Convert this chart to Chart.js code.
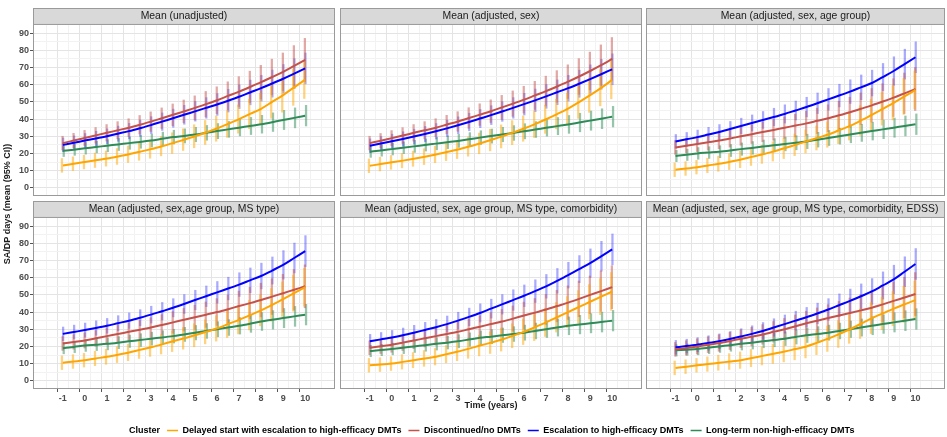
<!DOCTYPE html>
<html>
<head>
<meta charset="utf-8">
<script src="https://cdn.jsdelivr.net/npm/chart.js@4.4.1/dist/chart.umd.min.js"></script>
<style>
  html, body { margin: 0; padding: 0; background: #fff; width: 947px; height: 437px; overflow: hidden; position: relative; }
  canvas { position: absolute; }
</style>
</head>
<body>
<canvas id="frame" width="968" height="445" style="left:0;top:0"></canvas>
<script>
// Time points (years), one every half year
const years = [-1, -0.5, 0, 0.5, 1, 1.5, 2, 2.5, 3, 3.5, 4, 4.5, 5, 5.5, 6, 6.5, 7, 7.5, 8, 8.5, 9, 9.5, 10];
const xTickLabels = [-1, 0, 1, 2, 3, 4, 5, 6, 7, 8, 9, 10];
const yTickLabels = [0, 10, 20, 30, 40, 50, 60, 70, 80, 90];

const clusters = [
  "Delayed start with escalation to high-efficacy DMTs",
  "Discontinued/no DMTs",
  "Escalation to high-efficacy DMTs",
  "Long-term non-high-efficacy DMTs"
];
const clusterColors = ["#ffa500", "#c4524b", "#0000ff", "#2e8b57"];
const barColors = ["rgba(255,165,0,0.5)", "rgba(196,82,75,0.5)", "rgba(40,40,255,0.4)", "rgba(46,139,87,0.5)"];

const panelTitles = [
  "Mean (unadjusted)",
  "Mean (adjusted, sex)",
  "Mean (adjusted, sex, age group)",
  "Mean (adjusted, sex,age group, MS type)",
  "Mean (adjusted, sex, age group, MS type, comorbidity)",
  "Mean (adjusted, sex, age group, MS type, comorbidity, EDSS)"
];

// Mean SA/DP days per cluster
const unadjDelayed = [13, 14, 15, 16, 17, 18.2, 19.5, 21, 22.5, 24.2, 26, 28, 30, 32.2, 34.5, 37.2, 40, 43, 46, 50, 54, 58.5, 63];
const unadjDiscont = [26, 27.5, 29, 30.5, 32, 33.5, 35, 36.7, 38.5, 40.5, 42.5, 44.5, 46.5, 48.7, 51, 53.5, 56, 58.7, 61.5, 64.5, 67.5, 71, 74.5];
const unadjEscal = [25, 26.2, 27.5, 28.7, 30, 31.5, 33, 34.7, 36.5, 38.5, 40.5, 42.5, 44.5, 46.5, 48.5, 50.7, 53, 55.5, 58, 60.7, 63.5, 66.5, 69.5];
const unadjLong = [21.5, 22.2, 23, 23.7, 24.5, 25.2, 26, 26.7, 27.5, 28.5, 29.5, 30.2, 31, 32, 33, 34, 35, 36, 37, 38.2, 39.5, 40.7, 42];

const sexDelayed = [12.8, 13.8, 14.8, 15.8, 16.9, 18.1, 19.4, 20.8, 22.3, 24, 25.8, 27.8, 29.9, 32.1, 34.5, 37.1, 39.9, 42.9, 46.1, 49.9, 53.9, 58.2, 62.8];
const sexDiscont = [26, 27.4, 28.9, 30.4, 32, 33.5, 35, 36.8, 38.6, 40.6, 42.6, 44.6, 46.8, 49, 51.3, 53.8, 56.3, 59, 61.8, 64.8, 68, 71.4, 75];
const sexEscal = [24.5, 25.8, 27.1, 28.4, 29.8, 31.3, 32.9, 34.6, 36.4, 38.3, 40.3, 42.3, 44.4, 46.5, 48.7, 50.9, 53.2, 55.6, 58, 60.6, 63.3, 66.1, 69];
const sexLong = [21, 21.7, 22.5, 23.3, 24.1, 24.9, 25.7, 26.5, 27.3, 28.2, 29.2, 30.1, 31, 31.9, 32.9, 33.9, 34.9, 35.9, 36.9, 38, 39.1, 40.2, 41.4];

const ageDelayed = [10.5, 11.2, 12, 13, 14, 15.2, 16.5, 18, 19.5, 21.2, 23, 25, 27, 29, 31, 33.5, 36, 39.2, 42.5, 46, 49.5, 53.2, 57];
const ageDiscont = [23.5, 24.5, 25.5, 26.5, 27.5, 28.7, 30, 31.2, 32.5, 33.7, 35, 36.2, 37.5, 39, 40.5, 42.2, 44, 46, 48, 50.2, 52.5, 55, 57.5];
const ageEscal = [27, 28.2, 29.5, 31, 32.5, 34.2, 36, 37.7, 39.5, 41.2, 43, 45, 47, 49.2, 51.5, 53.7, 56, 58.5, 61, 64.5, 68, 72, 76];
const ageLong = [18.5, 19.2, 20, 20.5, 21, 21.7, 22.5, 23.2, 24, 24.7, 25.5, 26.2, 27, 28, 29, 30, 31, 32, 33, 34, 35, 36, 37];

const msDelayed = [10.5, 11.2, 12, 13, 14, 15.2, 16.5, 18, 19.5, 21.2, 23, 24.7, 26.5, 28.5, 30.5, 33, 35.5, 38.2, 41, 44.2, 47.5, 51, 54.5];
const msDiscont = [21.7, 22.6, 23.5, 24.7, 26, 27.2, 28.5, 29.7, 31, 32.5, 34, 35.5, 37, 38.5, 40, 41.7, 43.5, 45.2, 47, 49, 51, 53, 55];
const msEscal = [27.3, 28.4, 29.5, 30.7, 32, 33.5, 35, 36.7, 38.5, 40.5, 42.5, 44.7, 47, 49.2, 51.5, 53.7, 56, 58.5, 61, 64.2, 67.5, 71.5, 75.5];
const msLong = [19, 19.7, 20.5, 21, 21.5, 22.2, 23, 23.7, 24.5, 25.2, 26, 27, 28, 29, 30, 31, 32, 33.2, 34.5, 35.5, 36.5, 37.5, 38.5];

const comorbDelayed = [9, 9.4, 10, 11, 12, 13, 14, 15.5, 17, 18.7, 20.5, 22.2, 24, 26.2, 28.5, 31.2, 34, 37, 40, 43, 46, 49, 52];
const comorbDiscont = [19.2, 20.1, 21, 22.2, 23.5, 24.7, 26, 27.2, 28.5, 30, 31.5, 33, 34.5, 36.2, 38, 39.7, 41.5, 43.5, 45.5, 47.7, 50, 52.2, 54.5];
const comorbEscal = [23, 24.1, 25.2, 26.5, 28, 29.6, 31.2, 33, 35, 37.2, 39.5, 42, 44.5, 47, 49.5, 52.2, 55, 58.2, 61.5, 65, 68.5, 72.5, 76.5];
const comorbLong = [17.3, 17.9, 18.5, 19.2, 20, 20.7, 21.5, 22.2, 23, 24, 25, 25.7, 26.5, 27.2, 28, 29, 30, 31, 32, 32.7, 33.5, 34.2, 35];

const edssDelayed = [7.5, 8.2, 9, 9.7, 10.5, 11.2, 12, 13.2, 14.5, 15.7, 17, 18.5, 20, 22.2, 24.5, 27.2, 30, 33.2, 36.5, 39.2, 42, 44.5, 47];
const edssDiscont = [18.3, 19.1, 20, 21, 22, 23.2, 24.5, 25.7, 27, 28.5, 30, 31.7, 33.5, 35, 36.5, 38, 39.5, 41, 42.5, 44.5, 46.5, 48.5, 50.5];
const edssEscal = [19.5, 20.2, 21, 22, 23, 24.3, 25.8, 27.3, 29, 31, 33, 35, 37, 39.2, 41.5, 44, 46.5, 49.2, 52, 55.5, 59, 63.5, 68];
const edssLong = [17.7, 18.1, 18.5, 19.2, 20, 20.7, 21.5, 22.2, 23, 23.7, 24.5, 25.5, 26.5, 27.2, 28, 29, 30, 31, 32, 33, 34, 35, 36];

// Half-width of the 95% CI per cluster
const ciDelayed = [4, 4, 4, 4.2, 4.4, 4.6, 4.8, 5, 5.3, 5.6, 6, 6.3, 6.7, 7, 7.4, 7.8, 8.2, 8.6, 9, 9.5, 10, 10.5, 11];
const ciDiscont = [4, 4.2, 4.4, 4.6, 4.8, 5, 5.2, 5.4, 5.7, 6, 6.3, 6.6, 7, 7.4, 7.8, 8.2, 8.7, 9.2, 9.8, 10.4, 11, 11.8, 12.5];
const ciEscal = [4, 4, 4.1, 4.2, 4.3, 4.4, 4.5, 4.7, 4.9, 5.1, 5.3, 5.5, 5.7, 6, 6.3, 6.6, 6.9, 7.2, 7.5, 7.9, 8.3, 8.7, 9];
const ciLong = [3.3, 3.3, 3.4, 3.4, 3.5, 3.5, 3.6, 3.7, 3.8, 3.9, 4, 4.1, 4.2, 4.3, 4.4, 4.6, 4.8, 5, 5.2, 5.4, 5.6, 5.8, 6];

const panelMeans = [
  [unadjDelayed, unadjDiscont, unadjEscal, unadjLong],
  [sexDelayed, sexDiscont, sexEscal, sexLong],
  [ageDelayed, ageDiscont, ageEscal, ageLong],
  [msDelayed, msDiscont, msEscal, msLong],
  [comorbDelayed, comorbDiscont, comorbEscal, comorbLong],
  [edssDelayed, edssDiscont, edssEscal, edssLong]
];
const ciWidths = [ciDelayed, ciDiscont, ciEscal, ciLong];
const dodge = [-0.04, -0.013, 0.013, 0.04];

// Facet layout
const colLeft = [33, 340, 646];
const colWidth = [302, 302, 299];
const rowTop = [8, 201];
const stripH = 16;
const plotH = 172;
const xMin = -2.08, xMax = 11.08;
const yMin = -4.8, yMax = 95.4;

Chart.defaults.font.family = "'Liberation Sans', Arial, sans-serif";
Chart.defaults.color = "#4d4d4d";

// major ticks plus the minor ones half way between them
function tickList(labels, min, max) {
  const step = labels[1] - labels[0];
  const out = labels.map(v => ({ value: v }));
  labels.forEach(v => out.push({ value: v - step / 2 }));
  out.push({ value: labels[labels.length - 1] + step / 2 });
  return out.filter(t => t.value >= min && t.value <= max).sort((a, b) => a.value - b.value);
}

// grey strip behind the facet title and border round the panel
const panelFrame = {
  id: "panelFrame",
  beforeDraw(chart) {
    const { ctx } = chart;
    const t = chart.titleBlock;
    ctx.save();
    ctx.fillStyle = "#d9d9d9";
    ctx.fillRect(t.left, t.top, t.width, t.height);
    ctx.strokeStyle = "#9a9a9a";
    ctx.lineWidth = 1;
    ctx.strokeRect(t.left + 0.5, t.top + 0.5, t.width - 1, t.height);
    ctx.restore();
  },
  afterDraw(chart) {
    const { ctx, chartArea: a } = chart;
    ctx.save();
    ctx.strokeStyle = "#9a9a9a";
    ctx.lineWidth = 1;
    ctx.strokeRect(a.left + 0.5, a.top + 0.5, a.width - 1, a.height - 1);
    ctx.restore();
  }
};

function isMajor(labels, c) {
  return !!(c.tick && labels.includes(c.tick.value));
}

function gridStyle(labels, showTicks) {
  return {
    color: (c) => isMajor(labels, c) ? "#e4e4e4" : "#f2f2f2",
    lineWidth: 1,
    drawTicks: showTicks,
    tickLength: 3,
    tickColor: (c) => isMajor(labels, c) ? "#555" : "rgba(0,0,0,0)"
  };
}

function buildPanel(p) {
  const col = p % 3, row = Math.floor(p / 3);
  const yW = col === 0 ? 33 : 0;
  const xH = row === 1 ? 24 : 10;
  const canvas = document.createElement("canvas");
  canvas.width = yW + colWidth[col] + 1;
  canvas.height = stripH + plotH + xH;
  canvas.style.left = (colLeft[col] - yW) + "px";
  canvas.style.top = rowTop[row] + "px";
  document.body.appendChild(canvas);

  const datasets = [];
  panelMeans[p].forEach((means, k) => {
    datasets.push({
      type: "line",
      label: clusters[k],
      data: years.map((t, i) => ({ x: t, y: means[i] })),
      borderColor: clusterColors[k],
      borderWidth: 2,
      pointRadius: 0,
      cubicInterpolationMode: "monotone",
      order: 0
    });
    // error bars as thin floating bars
    datasets.push({
      type: "bar",
      label: clusters[k] + " CI",
      data: years.map((t, i) => ({ x: t + dodge[k], y: [means[i] - ciWidths[k][i], means[i] + ciWidths[k][i]] })),
      backgroundColor: barColors[k],
      borderWidth: 0,
      barThickness: 1.6,
      grouped: false,
      order: 1
    });
  });

  new Chart(canvas, {
    type: "line",
    data: { datasets },
    options: {
      responsive: false,
      animation: false,
      events: [],
      devicePixelRatio: 1,
      layout: { padding: { right: 1 } },
      plugins: {
        legend: { display: false },
        tooltip: { enabled: false },
        title: {
          display: true,
          text: panelTitles[p],
          fullSize: false,
          color: "#1a1a1a",
          font: { size: 10.4, weight: "normal", lineHeight: 1.15 },
          padding: { top: 2, bottom: 2 }
        }
      },
      scales: {
        x: {
          type: "linear",
          min: xMin,
          max: xMax,
          afterBuildTicks: (s) => { s.ticks = tickList(xTickLabels, xMin, xMax); },
          afterFit: (s) => { s.height = xH; },
          grid: gridStyle(xTickLabels, row === 1),
          border: { display: false },
          ticks: {
            display: row === 1,
            autoSkip: false,
            maxRotation: 0,
            padding: 1,
            font: { size: 9, weight: "bold" },
            callback: (v) => xTickLabels.includes(v) ? String(v) : ""
          },
          title: {
            display: p === 4,
            text: "Time (years)",
            color: "#1a1a1a",
            font: { size: 9, weight: "bold" },
            padding: { top: 0, bottom: 1.6 }
          }
        },
        y: {
          type: "linear",
          min: yMin,
          max: yMax,
          afterBuildTicks: (s) => { s.ticks = tickList(yTickLabels, yMin, yMax); },
          afterFit: (s) => { s.width = yW; },
          grid: gridStyle(yTickLabels, col === 0),
          border: { display: false },
          ticks: {
            display: col === 0,
            autoSkip: false,
            padding: 1,
            font: { size: 9, weight: "bold" },
            callback: (v) => yTickLabels.includes(v) ? String(v) : ""
          }
        }
      }
    },
    plugins: [panelFrame]
  });
}

for (let p = 0; p < panelTitles.length; p++) buildPanel(p);

// Shared y title and the cluster legend underneath
const legendItems = [{ text: "Cluster", fillStyle: "rgba(0,0,0,0)", strokeStyle: "rgba(0,0,0,0)", lineWidth: 0 }]
  .concat(clusters.map((c, i) => ({ text: c, fillStyle: clusterColors[i], strokeStyle: clusterColors[i], lineWidth: 0 })));

new Chart(document.getElementById("frame"), {
  type: "line",
  data: { datasets: [] },
  options: {
    responsive: false,
    animation: false,
    events: [],
    devicePixelRatio: 1,
    plugins: {
      tooltip: { enabled: false },
      legend: {
        position: "bottom",
        labels: {
          boxWidth: 11,
          boxHeight: 1.5,
          padding: 7,
          color: "#1a1a1a",
          font: { size: 9, weight: "bold" },
          generateLabels: () => legendItems
        }
      }
    },
    scales: {
      x: {
        type: "linear",
        grid: { display: false },
        border: { display: false },
        ticks: { display: false },
        afterFit: (s) => { s.height = 11; }
      },
      y: {
        grid: { display: false },
        border: { display: false },
        ticks: { display: false },
        title: {
          display: true,
          text: "SA/DP days (mean (95% CI))",
          color: "#1a1a1a",
          font: { size: 9, weight: "bold" },
          padding: { top: 2.6, bottom: 0 }
        }
      }
    }
  }
});
</script>
</body>
</html>
